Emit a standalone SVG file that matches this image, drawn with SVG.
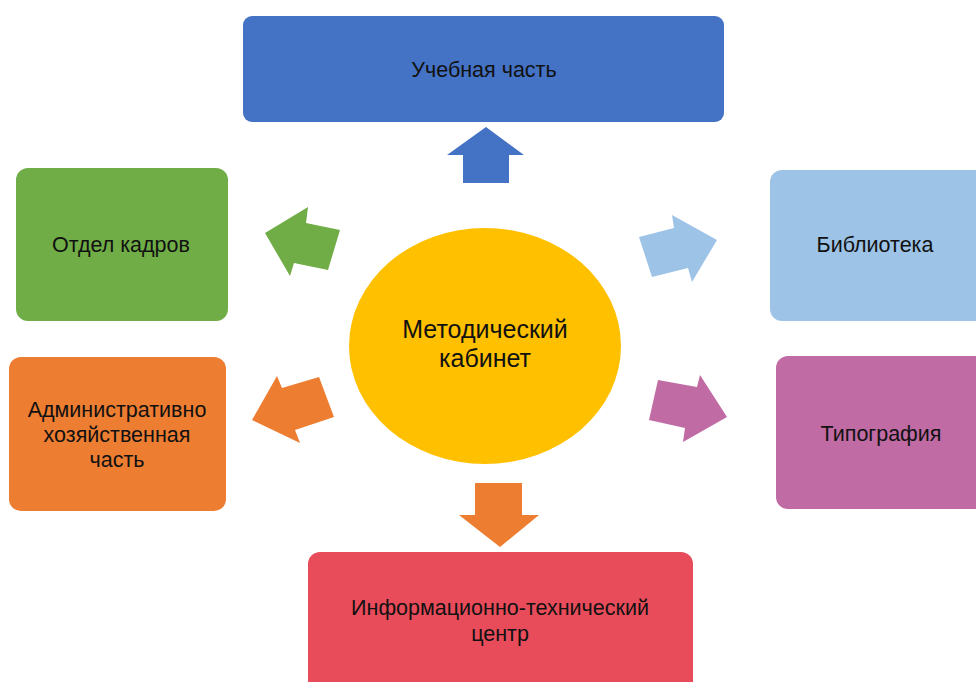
<svg xmlns="http://www.w3.org/2000/svg" width="976" height="682" viewBox="0 0 976 682">
<style>
text{font-family:"Liberation Sans",Arial,sans-serif;font-size:21.5px;fill:#111;text-anchor:middle}
.big{font-size:25px}
</style>
<rect width="976" height="682" fill="#fff"/>
<g id="connectors">
<polygon fill="#4472C4" points="486,127 524,155 509,155 509,183 463,183 463,155 447,155"/>
<polygon fill="#ED7D31" points="475,483 522,483 522,515 539,515 500,547 459,515 475,515"/>
<polygon fill="#70AD47" points="265,233 308,207 306,223 340,230 328,270 294,263 290,276"/>
<polygon fill="#9DC3E6" points="639,237 674,228 672,215 717,240 692,282 688,268 652,277"/>
<polygon fill="#ED7D31" points="277,376 282,388 319,377 334,417 295,430 300,443 252,420"/>
<polygon fill="#C06BA4" points="658,380 697,387 700,375 727,417 683,442 685,428 649,420"/>
</g>
<g id="center"><ellipse cx="485" cy="346" rx="136" ry="118" fill="#FFC000"/>
<text class="big" x="485" y="338">Методический</text><text class="big" x="485" y="367">кабинет</text></g>
<g id="n-ucheb"><rect x="243" y="16" width="481" height="106" rx="9" fill="#4472C4"/><text x="484" y="77">Учебная часть</text></g>
<g id="n-kadry"><rect x="16" y="168" width="212" height="153" rx="12" fill="#70AD47"/><text x="121" y="252">Отдел кадров</text></g>
<g id="n-bibl"><rect x="770" y="170" width="220" height="151" rx="12" fill="#9DC3E6"/><text x="875" y="252">Библиотека</text></g>
<g id="n-admin"><rect x="9" y="357" width="217" height="154" rx="12" fill="#ED7D31"/><text x="117" y="417">Административно</text><text x="117" y="442">хозяйственная</text><text x="117" y="467">часть</text></g>
<g id="n-tipo"><rect x="776" y="356" width="214" height="153" rx="12" fill="#C06BA4"/><text x="881" y="441">Типография</text></g>
<g id="n-info"><rect x="308" y="552" width="385" height="150" rx="12" fill="#E84C5A"/><text x="500" y="615">Информационно-технический</text><text x="500" y="641">центр</text></g>
</svg>
